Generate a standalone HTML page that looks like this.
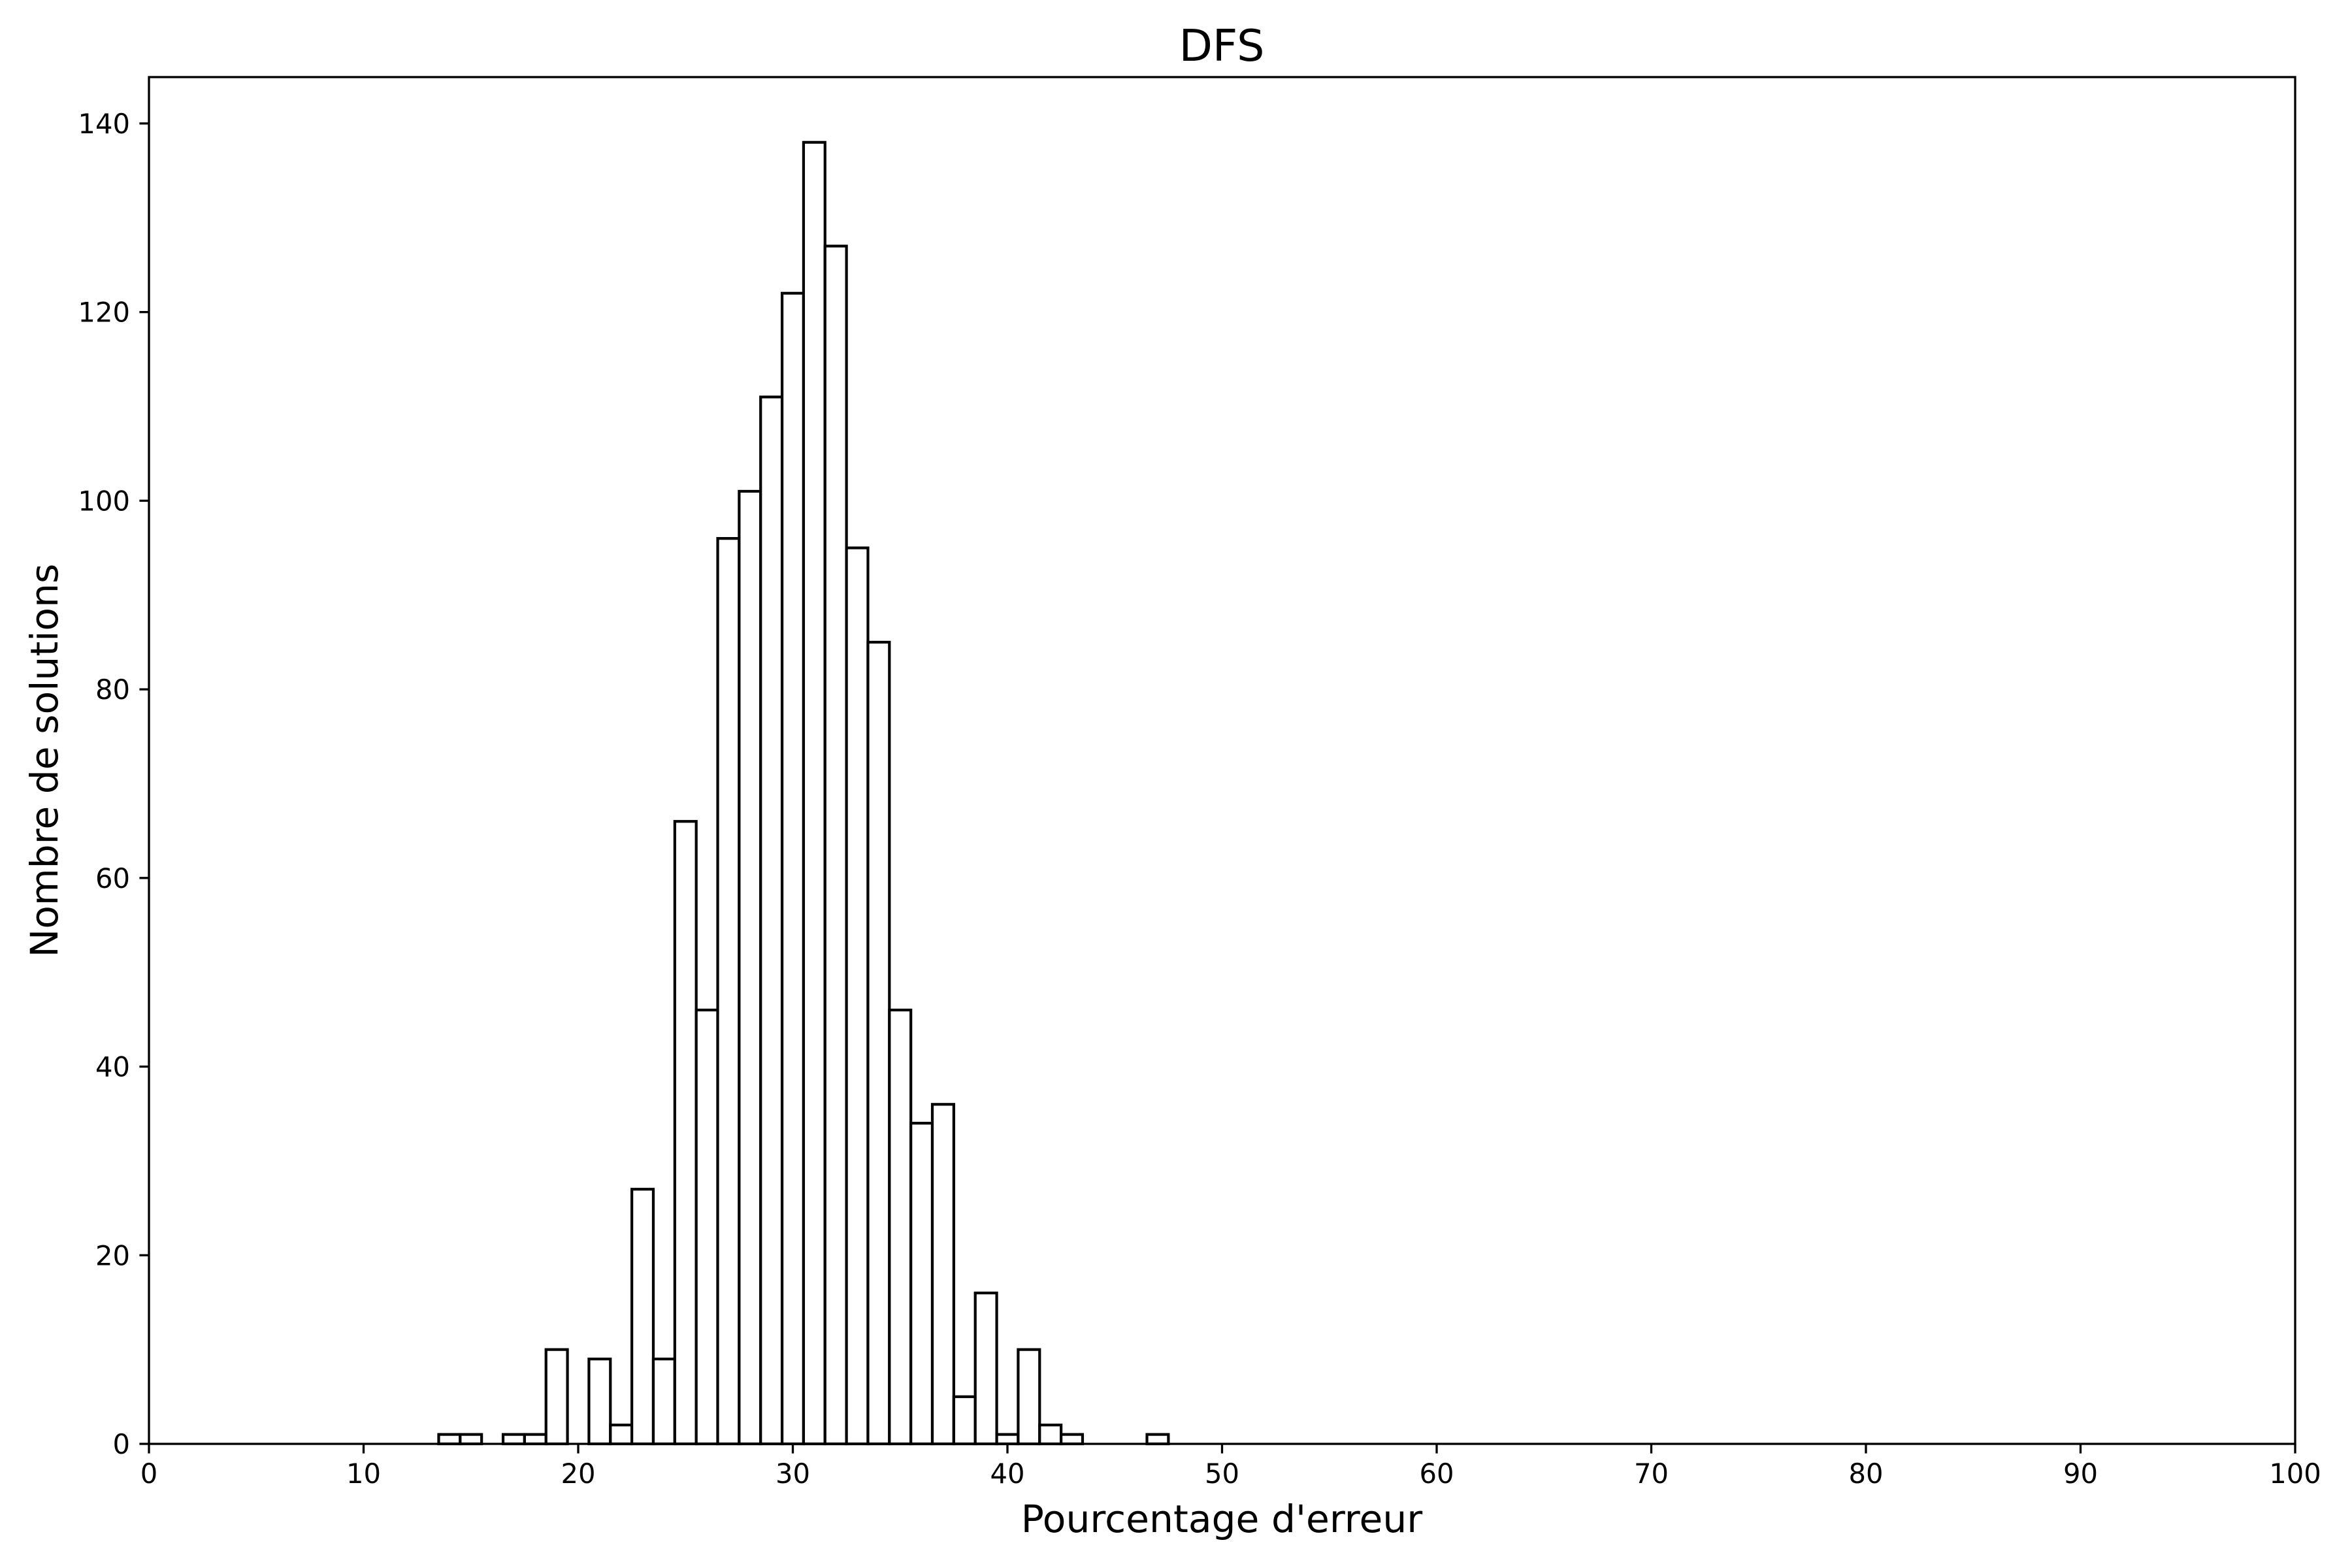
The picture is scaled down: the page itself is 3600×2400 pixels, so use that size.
<!DOCTYPE html>
<html><head><meta charset="utf-8"><style>
html,body{margin:0;padding:0;background:#fff;}
svg{display:block;font-family:"DejaVu Sans","Liberation Sans",sans-serif;}
</style></head><body>
<svg id="chart" width="3600" height="2400" xmlns="http://www.w3.org/2000/svg">
<rect width="3600" height="2400" fill="#fff"/>
<g id="bars"></g>
<g id="axes"></g>
<text x="1870" y="93" font-size="66.7" text-anchor="middle">DFS</text>
<text x="1870" y="2345" font-size="58.3" text-anchor="middle">Pourcentage d'erreur</text>
<text transform="translate(88,1164) rotate(-90)" font-size="58.3" text-anchor="middle">Nombre de solutions</text>
</svg>
<script>
const binStarts = [13.5,14.5,15.5,16.5,17.5,18.5,19.5,20.5,21.5,22.5,23.5,24.5,25.5,26.5,27.5,28.5,29.5,30.5,31.5,32.5,33.5,34.5,35.5,36.5,37.5,38.5,39.5,40.5,41.5,42.5,43.5,44.5,45.5,46.5];
const counts = [1,1,0,1,1,10,0,9,2,27,9,66,46,96,101,111,122,138,127,95,85,46,34,36,5,16,1,10,2,1,0,0,0,1];
const binWidth = 1;
const xTicks = [0,10,20,30,40,50,60,70,80,90,100];
const yTicks = [0,20,40,60,80,100,120,140];

const L=228, R=3513, T=118, B=2210;
const xMin=0, xMax=100, yMax=145;
const NS="http://www.w3.org/2000/svg";
function sx(v){return L+(v-xMin)/(xMax-xMin)*(R-L);}
function sy(v){return B-v*14.436;}
function mk(tag,attrs,parent){const e=document.createElementNS(NS,tag);for(const k in attrs)e.setAttribute(k,attrs[k]);parent.appendChild(e);return e;}
const bars=document.getElementById('bars');
binStarts.forEach((s,i)=>{
  if(counts[i]<=0)return;
  const x0=sx(s),x1=sx(s+binWidth),y=sy(counts[i]);
  const r=mk('rect',{x:x0,y:y,width:x1-x0,height:B-y,fill:'#fff',stroke:'#000','stroke-width':4.2},bars);
  
  
});
const axes=document.getElementById('axes');
const frame=mk('rect',{x:L,y:T,width:R-L,height:B-T,fill:'none',stroke:'#000','stroke-width':3.3},axes);


xTicks.forEach(v=>{
  const x=sx(v);
  const t=mk('line',{x1:x,x2:x,y1:B,y2:B+14.6,stroke:'#000','stroke-width':3.3},axes);
  
  
  const lb=mk('text',{x:x,y:B+60,'font-size':41.7,'text-anchor':'middle'},axes);
  lb.textContent=v;
  
  
});
yTicks.forEach(v=>{
  const y=sy(v);
  const t=mk('line',{x1:L-14.6,x2:L,y1:y,y2:y,stroke:'#000','stroke-width':3.3},axes);
  
  
  const lb=mk('text',{x:L-29,y:y+15,'font-size':41.7,'text-anchor':'end'},axes);
  lb.textContent=v;
  
  
});
</script>
</body></html>
